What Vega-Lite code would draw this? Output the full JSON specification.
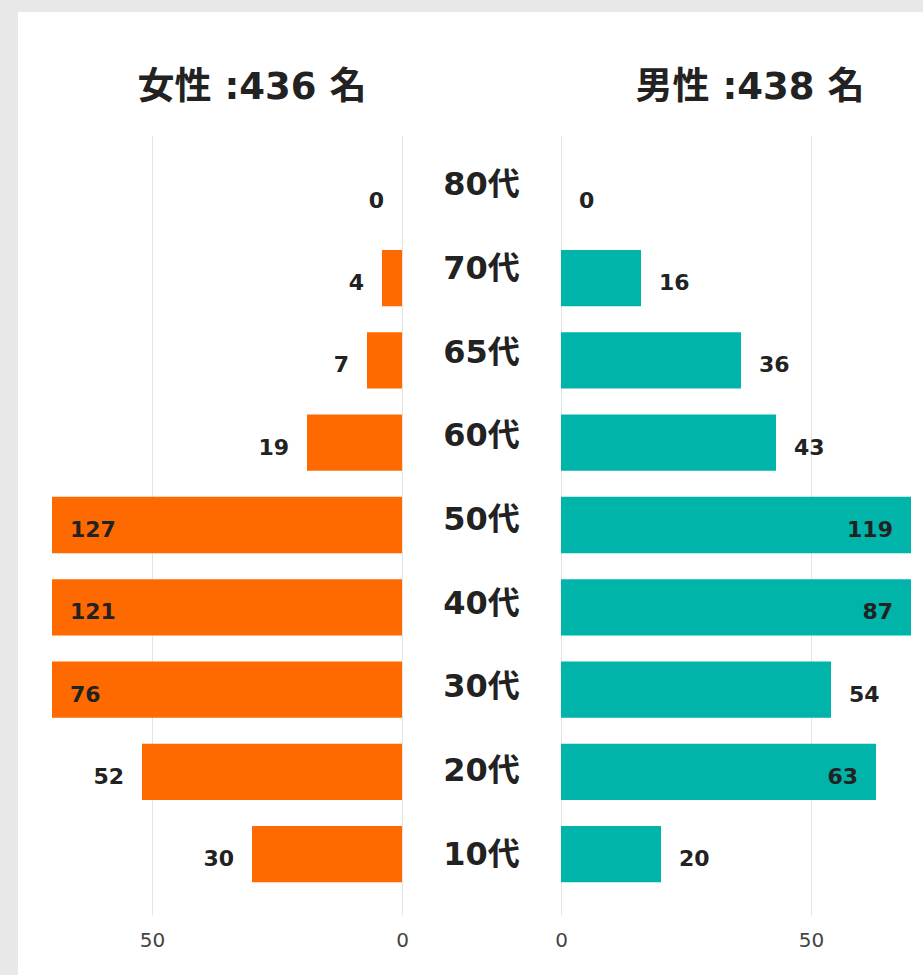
{
  "$schema": "https://vega.github.io/schema/vega-lite/v6.json",
  "background": "white",
  "padding": 0,
  "config": {"view": {"stroke": null}},
  "datasets": {
    "pop": [
      {"age": "80代", "sex": "女性", "value": 0},
      {"age": "70代", "sex": "女性", "value": 4},
      {"age": "65代", "sex": "女性", "value": 7},
      {"age": "60代", "sex": "女性", "value": 19},
      {"age": "50代", "sex": "女性", "value": 127},
      {"age": "40代", "sex": "女性", "value": 121},
      {"age": "30代", "sex": "女性", "value": 76},
      {"age": "20代", "sex": "女性", "value": 52},
      {"age": "10代", "sex": "女性", "value": 30},
      {"age": "80代", "sex": "男性", "value": 0},
      {"age": "70代", "sex": "男性", "value": 16},
      {"age": "65代", "sex": "男性", "value": 36},
      {"age": "60代", "sex": "男性", "value": 43},
      {"age": "50代", "sex": "男性", "value": 119},
      {"age": "40代", "sex": "男性", "value": 87},
      {"age": "30代", "sex": "男性", "value": 54},
      {"age": "20代", "sex": "男性", "value": 63},
      {"age": "10代", "sex": "男性", "value": 20}
    ]
  },
  "spacing": 0,
  "hconcat": [
    {"width": 18, "height": 975, "data": {"values": []}, "mark": "rect", "view": {"fill": "#e8e8e8", "stroke": null}},
    {
      "spacing": 57,
      "vconcat": [
        {"width": 905, "height": 12, "data": {"values": []}, "mark": "rect", "view": {"fill": "#e8e8e8", "stroke": null}},
        {
          "spacing": 0,
          "bounds": "flush",
          "hconcat": [
            {"width": 34, "height": 780, "data": {"values": []}, "mark": "rect"},
            {
              "width": 350,
              "height": 780,
              "title": {"text": "女性 :436 名", "fontSize": 37, "font": "DejaVu Sans, Noto Sans CJK JP", "fontWeight": "bold", "color": "#222222", "anchor": "middle", "dx": 25, "offset": 28},
              "data": {"name": "pop"},
              "transform": [{"filter": "datum.sex === '女性'"}],
              "encoding": {
                "y": {"field": "age", "type": "nominal", "sort": ["80代", "70代", "65代", "60代", "50代", "40代", "30代", "20代", "10代"], "axis": null, "scale": {"type": "band", "paddingInner": 0.316, "paddingOuter": 0.397}},
                "x": {"field": "value", "type": "quantitative", "scale": {"domain": [0, 70], "reverse": true, "clamp": true, "nice": false, "zero": true},
                  "axis": {"values": [0, 50], "grid": true, "gridColor": "#e4e4e4", "domain": false, "ticks": false, "labelFlush": false, "labelFontSize": 20, "labelColor": "#444444", "labelPadding": 15, "labelFont": "DejaVu Sans", "title": null}}
              },
              "layer": [
                {"mark": {"type": "bar", "color": "#FF6A00"}},
                {"transform": [{"filter": "datum.value <= 58"}], "mark": {"type": "text", "align": "right", "dx": -18, "dy": 5, "fontSize": 22, "fontWeight": "bold", "font": "DejaVu Sans", "color": "#222222"}, "encoding": {"text": {"field": "value"}}},
                {"transform": [{"filter": "datum.value > 58"}], "mark": {"type": "text", "align": "left", "dx": 18, "dy": 5, "fontSize": 22, "fontWeight": "bold", "font": "DejaVu Sans", "color": "#222222"}, "encoding": {"text": {"field": "value"}}}
              ]
            },
            {
              "width": 159,
              "height": 780,
              "data": {"name": "pop"},
              "transform": [{"filter": "datum.sex === '女性'"}],
              "mark": {"type": "text", "fontSize": 32, "fontWeight": "bold", "font": "DejaVu Sans, Noto Sans CJK JP", "color": "#222222", "dy": -5},
              "encoding": {
                "y": {"field": "age", "type": "nominal", "sort": ["80代", "70代", "65代", "60代", "50代", "40代", "30代", "20代", "10代"], "axis": null, "scale": {"type": "band", "paddingInner": 0, "paddingOuter": 0.157}},
                "text": {"field": "age"}
              }
            },
            {
              "width": 350,
              "height": 780,
              "title": {"text": "男性 :438 名", "fontSize": 37, "font": "DejaVu Sans, Noto Sans CJK JP", "fontWeight": "bold", "color": "#222222", "anchor": "middle", "dx": 14, "offset": 28},
              "data": {"name": "pop"},
              "transform": [{"filter": "datum.sex === '男性'"}],
              "encoding": {
                "y": {"field": "age", "type": "nominal", "sort": ["80代", "70代", "65代", "60代", "50代", "40代", "30代", "20代", "10代"], "axis": null, "scale": {"type": "band", "paddingInner": 0.316, "paddingOuter": 0.397}},
                "x": {"field": "value", "type": "quantitative", "scale": {"domain": [0, 70], "clamp": true, "nice": false, "zero": true},
                  "axis": {"values": [0, 50], "grid": true, "gridColor": "#e4e4e4", "domain": false, "ticks": false, "labelFlush": false, "labelFontSize": 20, "labelColor": "#444444", "labelPadding": 15, "labelFont": "DejaVu Sans", "title": null}}
              },
              "layer": [
                {"mark": {"type": "bar", "color": "#00B4AA"}},
                {"transform": [{"filter": "datum.value <= 58"}], "mark": {"type": "text", "align": "left", "dx": 18, "dy": 5, "fontSize": 22, "fontWeight": "bold", "font": "DejaVu Sans", "color": "#222222"}, "encoding": {"text": {"field": "value"}}},
                {"transform": [{"filter": "datum.value > 58"}], "mark": {"type": "text", "align": "right", "dx": -18, "dy": 5, "fontSize": 22, "fontWeight": "bold", "font": "DejaVu Sans", "color": "#222222"}, "encoding": {"text": {"field": "value"}}}
              ]
            }
          ]
        }
      ]
    }
  ]
}
